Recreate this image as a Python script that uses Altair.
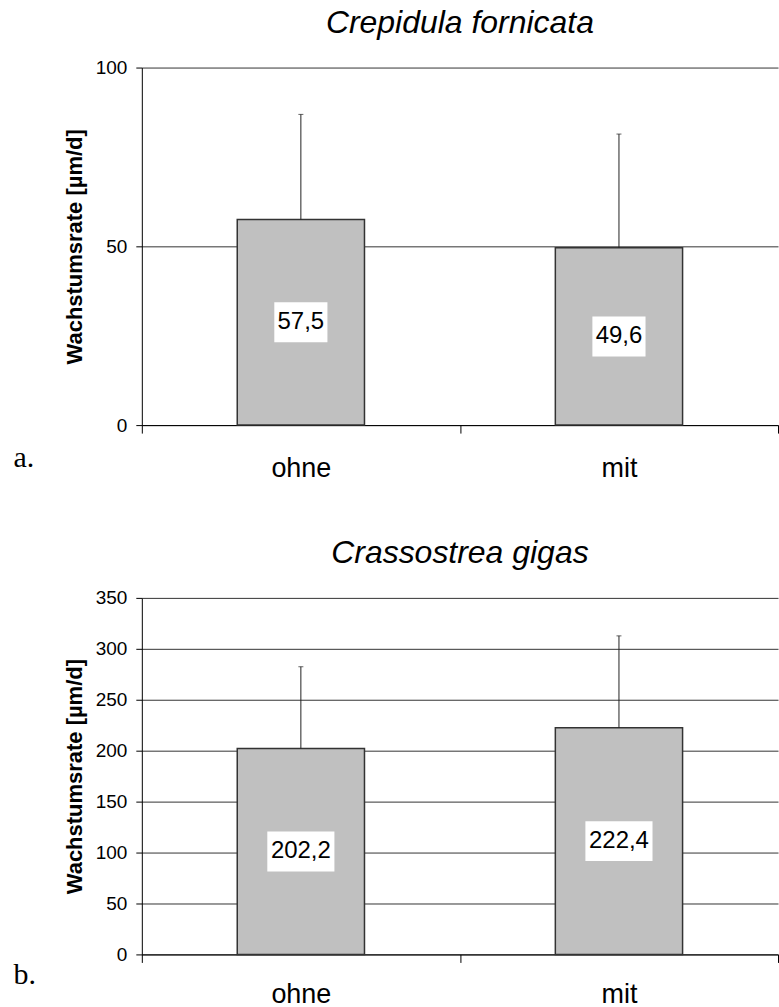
import altair as alt
import pandas as pd

categories = ["ohne", "mit"]
crep_mean = [57.5, 49.6]
crep_upper = [86.9, 81.4]
crep_text = ["57,5", "49,6"]
crep_ticks = [0, 50, 100]

cras_mean = [202.2, 222.4]
cras_upper = [282.4, 312.7]
cras_text = ["202,2", "222,4"]
cras_ticks = [0, 50, 100, 150, 200, 250, 300, 350]

FONT = "Liberation Sans"
YTITLE = "Wachstumsrate [µm/d]"
BOX4 = "M-1.33,-1L1.33,-1L1.33,1L-1.33,1Z"
BOX5 = "M-1.68,-1L1.68,-1L1.68,1L-1.68,1Z"


def panel(means, upper, texts, ticks, title, letter, letter_y, label_pad, h):
    df = pd.DataFrame({"cat": categories, "mean": means, "upper": upper, "label": texts})
    df["nchar"] = df["label"].str.len().astype(str)

    x = alt.X(
        "cat:N", sort=categories,
        scale=alt.Scale(paddingInner=0, paddingOuter=0),
        axis=alt.Axis(
            title=letter, titleFont="Liberation Serif", titleFontSize=30,
            titleFontWeight="normal", titleColor="black",
            titleX=-129, titleY=letter_y, titleAlign="left", titleBaseline="alphabetic",
            labelFont=FONT, labelFontSize=27, labelColor="black", labelAngle=0,
            labelPadding=label_pad, tickBand="extent", tickSize=8, tickColor="black",
            domainColor="black", grid=False,
        ),
    )

    def Y(field):
        return alt.Y(
            f"{field}:Q",
            scale=alt.Scale(domain=[0, ticks[-1]], nice=False, zero=True),
            axis=alt.Axis(
                values=ticks, title=YTITLE, titleFont=FONT, titleFontSize=22,
                titleFontWeight="bold", titleColor="black", titlePadding=9,
                labelFont=FONT, labelFontSize=19, labelColor="black", labelPadding=9,
                tickSize=6, tickColor="black", domainColor="black",
                grid=True, gridColor="#333", gridWidth=1,
            ),
        )

    base = alt.Chart(df).encode(x=x)
    bars = base.mark_bar(width={"band": 0.4}, fill="#c0c0c0", stroke="#333",
                         strokeWidth=1.5).encode(y=Y("mean"))
    rule = base.mark_rule(color="#222", strokeWidth=1).encode(y=Y("mean"), y2="upper:Q")
    cap = base.mark_tick(orient="horizontal", size=5, thickness=1, color="#222").encode(y=Y("upper"))
    mid = base.transform_calculate(mid="datum.mean / 2")
    box = mid.mark_point(filled=True, fill="white", opacity=1, size=1600,
                         strokeWidth=0).encode(
        y=Y("mid"),
        shape=alt.Shape("nchar:N", scale=alt.Scale(domain=["4", "5"], range=[BOX4, BOX5]),
                        legend=None),
    )
    txt = mid.mark_text(font=FONT, fontSize=24, color="black", baseline="middle",
                        align="center").encode(y=Y("mid"), text="label:N")

    return alt.layer(bars, rule, cap, box, txt).properties(
        width=637, height=h,
        title=alt.TitleParams(title, font=FONT, fontSize=32, fontStyle="italic",
                              fontWeight="normal", anchor="middle", color="black",
                              offset=19),
    )


top = panel(crep_mean, crep_upper, crep_text, crep_ticks, "Crepidula fornicata", "a.", 41, 22, 358)
bottom = panel(cras_mean, cras_upper, cras_text, cras_ticks, "Crassostrea gigas", "b.", 29, 19, 357)

chart = alt.vconcat(top, bottom, spacing=56).configure_view(stroke=None).properties(
    padding={"left": 13, "top": 6, "right": 0, "bottom": 0},
    background="white",
)

chart.save("out.html", embed_options={"renderer": "svg", "actions": False})
